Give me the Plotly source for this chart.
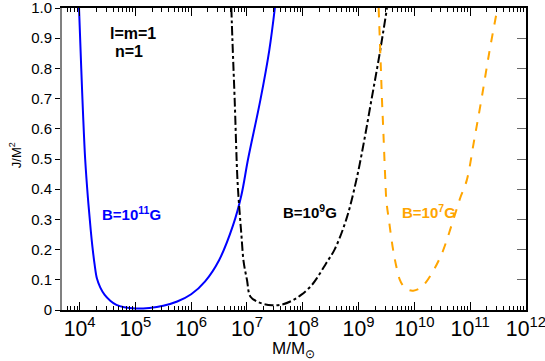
import numpy as np
import plotly.graph_objects as go

# curves: log10(M/Msun) and J/M^2
logm_b11 = [3.99, 4.03, 4.06, 4.10, 4.15, 4.20, 4.23, 4.27, 4.31, 4.37, 4.45, 4.55, 4.66,
            4.80, 5.00, 5.25, 5.50, 5.75, 6.00, 6.25, 6.50, 6.75, 6.90, 7.02, 7.24, 7.40, 7.50]
j_b11 = [1.0, 0.80, 0.66, 0.50, 0.37, 0.265, 0.21, 0.15, 0.105, 0.075, 0.05, 0.031, 0.017,
         0.009, 0.005, 0.007, 0.014, 0.028, 0.052, 0.095, 0.165, 0.28, 0.38, 0.50, 0.695, 0.86, 1.0]

logm_b9 = [6.72, 6.74, 6.78, 6.83, 6.87, 6.90, 6.94, 7.00, 7.06, 7.18, 7.30, 7.45, 7.60,
           7.80, 7.97, 8.15, 8.27, 8.42, 8.57, 8.78, 8.96, 9.10, 9.23, 9.37, 9.51]
j_b9 = [1.0, 0.89, 0.695, 0.43, 0.32, 0.25, 0.16, 0.10, 0.045, 0.028, 0.02, 0.016, 0.017,
        0.03, 0.05, 0.08, 0.11, 0.155, 0.20, 0.30, 0.43, 0.56, 0.695, 0.84, 1.0]

logm_b7 = [9.36, 9.40, 9.42, 9.44, 9.48, 9.50, 9.55, 9.61, 9.67, 9.74, 9.82, 9.90, 9.98,
           10.10, 10.20, 10.34, 10.50, 10.70, 10.82, 10.94, 11.07, 11.20, 11.34, 11.48]
j_b7 = [1.0, 0.80, 0.695, 0.61, 0.43, 0.36, 0.29, 0.21, 0.15, 0.10, 0.075, 0.066, 0.064,
        0.072, 0.09, 0.13, 0.19, 0.30, 0.37, 0.43, 0.56, 0.695, 0.85, 0.99]

y_ticks = [0, 0.1, 0.2, 0.3, 0.4, 0.5, 0.6, 0.7, 0.8, 0.9, 1.0]
y_labels = ["0", "0.1", "0.2", "0.3", "0.4", "0.5", "0.6", "0.7", "0.8", "0.9", "1.0"]

font = "Liberation Sans, Arial, Helvetica, sans-serif"
blue = "rgb(0,0,255)"
orange = "rgb(255,165,0)"

fig = go.Figure()
fig.add_trace(go.Scatter(x=10 ** np.array(logm_b11), y=j_b11, mode="lines",
                         line=dict(color=blue, width=2, shape="spline")))
fig.add_trace(go.Scatter(x=10 ** np.array(logm_b9), y=j_b9, mode="lines",
                         line=dict(color="black", width=2, dash="dashdot", shape="spline")))
fig.add_trace(go.Scatter(x=10 ** np.array(logm_b7), y=j_b7, mode="lines",
                         line=dict(color=orange, width=2, dash="dash", shape="spline")))
# dummy trace so the right-hand axis is drawn
fig.add_trace(go.Scatter(x=[1e5], y=[0.5], yaxis="y2", mode="lines", hoverinfo="skip",
                         line=dict(width=0), showlegend=False))

fig.update_layout(
    width=545, height=361,
    margin=dict(l=62, r=19, t=8, b=51),
    paper_bgcolor="white", plot_bgcolor="white",
    showlegend=False,
    font=dict(family=font, size=14, color="black"),
    xaxis=dict(
        type="log", range=[3.685, 12.001], dtick=1, exponentformat="power",
        showgrid=False, zeroline=False, automargin=False, ticklabeloverflow="allow",
        showline=True, linecolor="black", linewidth=1.5, mirror="ticks",
        ticks="inside", ticklen=8, tickcolor="black", tickwidth=1,
        minor=dict(ticks="inside", ticklen=4, tickcolor="black", showgrid=False),
        tickfont=dict(size=17),
    ),
    yaxis=dict(
        range=[0, 1], tickvals=y_ticks, ticktext=y_labels,
        showgrid=False, zeroline=False, automargin=False, ticklabeloverflow="allow",
        showline=True, linecolor="grey", linewidth=2,
        ticks="outside", ticklen=5, tickcolor="black",
        tickfont=dict(size=15),
    ),
    yaxis2=dict(
        range=[0, 1], tickvals=y_ticks, overlaying="y", side="right",
        showgrid=False, zeroline=False, showticklabels=False, automargin=False,
        showline=True, linecolor="black", linewidth=1.5,
        ticks="inside", ticklen=9, tickcolor="dimgrey",
    ),
)

# axis titles
fig.add_annotation(x=-0.101, y=0.513, xref="paper", yref="paper", text="J/M<sup>2</sup>",
                   textangle=-90, showarrow=False, xanchor="center", yanchor="middle",
                   font=dict(size=13))
fig.add_annotation(x=0.498, y=-0.088, xref="paper", yref="paper", text="M/M<sub>⊙</sub>",
                   showarrow=False, xanchor="center", yanchor="top", font=dict(size=17))

fig.add_annotation(x=0.099, y=0.916, xref="paper", yref="paper", text="<b>l=m=1</b>",
                   showarrow=False, xanchor="left", yanchor="middle", font=dict(size=16))
fig.add_annotation(x=0.110, y=0.855, xref="paper", yref="paper", text="<b>n=1</b>",
                   showarrow=False, xanchor="left", yanchor="middle", font=dict(size=16))
fig.add_annotation(x=0.082, y=0.32, xref="paper", yref="paper", text="<b>B=10<sup>11</sup>G</b>",
                   showarrow=False, xanchor="left", yanchor="middle", font=dict(size=15, color=blue))
fig.add_annotation(x=0.473, y=0.325, xref="paper", yref="paper", text="<b>B=10<sup>9</sup>G</b>",
                   showarrow=False, xanchor="left", yanchor="middle", font=dict(size=15, color="black"))
fig.add_annotation(x=0.728, y=0.325, xref="paper", yref="paper", text="<b>B=10<sup>7</sup>G</b>",
                   showarrow=False, xanchor="left", yanchor="middle", font=dict(size=15, color=orange))

fig.write_html("out.html", config={"displayModeBar": False},
               post_script="document.body.style.margin = '0px';")
